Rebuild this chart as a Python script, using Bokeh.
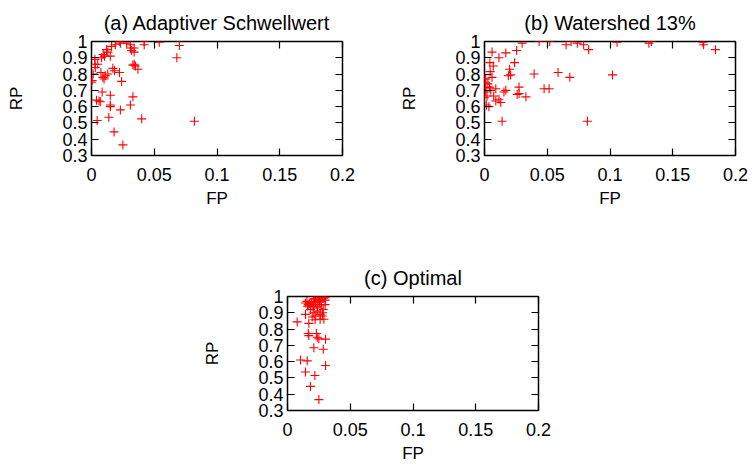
from bokeh.plotting import figure
from bokeh.layouts import column, row
from bokeh.models import FixedTicker, LinearAxis, Range1d, Title
from bokeh.embed import file_html
from bokeh.resources import INLINE

# ---------------- data ----------------
x_ticks = [0, 0.05, 0.1, 0.15, 0.2]
x_tick_labels = {0: "0", 0.05: "0.05", 0.1: "0.1", 0.15: "0.15", 0.2: "0.2"}
y_ticks = [0.3, 0.4, 0.5, 0.6, 0.7, 0.8, 0.9, 1.0]
y_tick_labels = {0.3: "0.3", 0.4: "0.4", 0.5: "0.5", 0.6: "0.6", 0.7: "0.7",
                 0.8: "0.8", 0.9: "0.9", 1.0: "1"}

titles = ["(a) Adaptiver Schwellwert", "(b) Watershed 13%", "(c) Optimal"]
x_label = "FP"
y_label = "RP"

adaptive_fp = [0.0226, 0.028, 0.042, 0.042, 0.054, 0.070, 0.068, 0.082, 0.040, 0.025,
               0.018, 0.0138, 0.0045, 0.023, 0.031, 0.033, 0.015, 0.015, 0.015, 0.006,
               0.007, 0.004, 0.0085, 0.024, 0.033, 0.035, 0.037, 0.034, 0.0223, 0.0183,
               0.013, 0.011, 0.009, 0.0075, 0.0027, 0.0013, 0.0005, 0.0027, 0.0093, 0.0103,
               0.015, 0.013, 0.012, 0.016, 0.019, 0.023, 0.031, 0.032, 0.034, 0.034,
               0.031, 0.003, 0.008, 0.005, 0.0, 0.010, 0.017]
adaptive_rp = [1.0, 0.99, 1.0, 0.98, 0.995, 0.975, 0.90, 0.51, 0.525, 0.365,
               0.445, 0.535, 0.515, 0.58, 0.61, 0.66, 0.60, 0.61, 0.67, 0.635,
               0.63, 0.64, 0.69, 0.755, 0.855, 0.85, 0.83, 0.86, 0.81, 0.82,
               0.80, 0.79, 0.78, 0.81, 0.86, 0.80, 0.76, 0.89, 0.92, 0.91,
               0.91, 0.935, 0.95, 0.97, 0.98, 0.99, 0.98, 0.945, 0.935, 0.96,
               0.96, 0.84, 0.90, 0.86, 0.75, 0.77, 0.835]

watershed_fp = [0.030, 0.0435, 0.052, 0.065, 0.069, 0.074, 0.079, 0.083, 0.006, 0.017,
                0.0256, 0.0115, 0.0043, 0.007, 0.024, 0.020, 0.0208, 0.0395, 0.0586, 0.068,
                0.102, 0.082, 0.0475, 0.0515, 0.0275, 0.0275, 0.026, 0.033, 0.0155, 0.017,
                0.009, 0.005, 0.001, 0.004, 0.0027, 0.0008, 0.0, 0.001, 0.006, 0.0045,
                0.0115, 0.013, 0.009, 0.0035, 0.0015, 0.0, 0.002, 0.014, 0.0073, 0.001,
                0.1056, 0.131, 0.133, 0.174, 0.1746, 0.184, 0.019]
watershed_rp = [0.99, 1.0, 1.0, 0.98, 1.0, 0.99, 0.98, 0.95, 0.935, 0.93,
                0.945, 0.90, 0.87, 0.85, 0.87, 0.83, 0.795, 0.80, 0.81, 0.78,
                0.795, 0.51, 0.71, 0.71, 0.72, 0.68, 0.675, 0.66, 0.69, 0.70,
                0.71, 0.70, 0.69, 0.72, 0.74, 0.75, 0.77, 0.77, 0.78, 0.815,
                0.645, 0.625, 0.635, 0.60, 0.61, 0.655, 0.665, 0.51, 0.665, 0.715,
                0.995, 0.99, 1.0, 0.995, 0.98, 0.95, 0.79]

optimal_fp = [0.025, 0.0183, 0.0218, 0.0143, 0.0104, 0.0157, 0.0303, 0.021, 0.0285, 0.0303,
              0.025, 0.0237, 0.017, 0.0165, 0.023, 0.0077, 0.017, 0.0197, 0.029, 0.026,
              0.022, 0.0143, 0.021, 0.026, 0.0237, 0.0183, 0.0285, 0.016, 0.0175, 0.0143,
              0.019, 0.0223, 0.026, 0.030, 0.0237, 0.0277, 0.030, 0.025, 0.021, 0.0237,
              0.027, 0.0197, 0.022, 0.030, 0.0277, 0.0165, 0.0215, 0.0255, 0.028, 0.0155,
              0.024, 0.0205, 0.029]
optimal_rp = [0.367, 0.448, 0.515, 0.536, 0.61, 0.605, 0.576, 0.685, 0.676, 0.738,
              0.74, 0.75, 0.76, 0.773, 0.773, 0.844, 0.835, 0.874, 0.86, 0.86,
              0.857, 0.89, 0.90, 0.89, 0.91, 0.92, 0.92, 0.94, 0.955, 0.96,
              0.962, 0.968, 0.974, 0.978, 0.995, 0.995, 0.995, 0.98, 0.95, 0.94,
              0.95, 0.94, 0.88, 0.95, 0.88, 0.95, 0.985, 0.965, 0.90, 0.97,
              0.93, 0.985, 0.99]

FONT = "Liberation Sans"
TICK_SIZE = "18px"
LABEL_SIZE = "17px"
TITLE_SIZE = "20px"


def make_panel(title, xs, ys, left, right, top, bottom):
    p = figure(output_backend="svg", toolbar_location=None,
               frame_width=251, frame_height=114,
               x_range=Range1d(0, 0.2), y_range=Range1d(0.3, 1.0),
               min_border_left=left, min_border_right=right,
               min_border_top=top, min_border_bottom=bottom,
               background_fill_color="white", border_fill_color="white")
    p.title = Title(text=title, align="center", text_font=FONT,
                    text_font_size=TITLE_SIZE, text_font_style="normal",
                    text_color="black", standoff=16)
    p.outline_line_color = "black"
    p.outline_line_width = 1.5
    p.grid.visible = False

    # mirrored axes (ticks only)
    p.add_layout(LinearAxis(), "above")
    p.add_layout(LinearAxis(), "right")

    for ax in p.xaxis:
        ax.ticker = FixedTicker(ticks=x_ticks)
    for ax in p.yaxis:
        ax.ticker = FixedTicker(ticks=y_ticks)
    for ax in p.axis:
        ax.axis_line_color = None
        ax.major_tick_in = 7
        ax.major_tick_out = 0
        ax.major_tick_line_color = "black"
        ax.major_tick_line_width = 1.2
        ax.minor_tick_line_color = None
        ax.major_label_text_font = FONT
        ax.major_label_text_font_size = TICK_SIZE
        ax.major_label_text_color = "black"
        ax.axis_label_text_font = FONT
        ax.axis_label_text_font_size = LABEL_SIZE
        ax.axis_label_text_font_style = "normal"
        ax.axis_label_text_color = "black"

    # main axes
    bx = p.below[0]
    bx.major_label_overrides = x_tick_labels
    bx.axis_label = x_label
    bx.major_label_standoff = 12
    bx.axis_label_standoff = 5
    ly = p.left[0]
    ly.major_label_overrides = y_tick_labels
    ly.axis_label = y_label
    ly.major_label_standoff = 4
    ly.axis_label_standoff = 33

    # mirror axes: ticks only, blank labels
    ta = p.above[0]
    ta.major_label_overrides = {t: "" for t in x_ticks}
    ta.major_label_standoff = 0
    ta.major_label_text_font_size = "4px"
    ra = p.right[0]
    ra.major_label_overrides = {t: "" for t in y_ticks}
    ra.major_label_standoff = 0
    ra.major_label_text_font_size = "4px"

    p.scatter(xs, ys, marker="cross", size=9, line_color="#ff0000", line_width=1.1)
    return p


pa = make_panel(titles[0], adaptive_fp, adaptive_rp, 91, 20, 41, 100)
pb = make_panel(titles[1], watershed_fp, watershed_rp, 122, 14, 41, 100)
pc = make_panel(titles[2], optimal_fp, optimal_rp, 287, 14, 41, 50)

layout = column(row(pa, pb), pc)

with open("out.html", "w") as f:
    f.write(file_html(layout, INLINE))
